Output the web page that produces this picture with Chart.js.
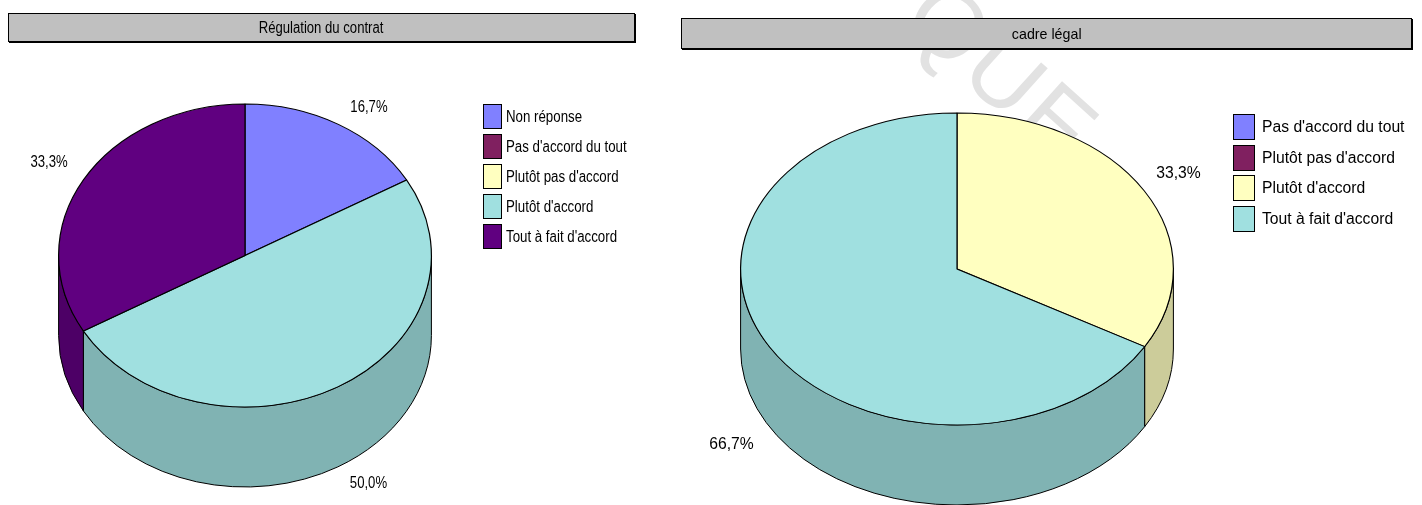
<!DOCTYPE html>
<html lang="fr">
<head>
<meta charset="utf-8">
<script src="https://cdn.jsdelivr.net/npm/chart.js@4.4.1/dist/chart.umd.min.js"></script>
<style>
  body { margin: 0; background: #fff; }
  #page { position: relative; width: 1422px; height: 505px; overflow: hidden; font-family: "Liberation Sans", Arial, sans-serif; color: #000; }
  .titre { position: absolute; box-sizing: border-box; background: #c0c0c0; border: 1px solid #000; box-shadow: 1px 1px 0 #000; text-align: center; white-space: nowrap; }
  .titre span { display: inline-block; }
  canvas { position: absolute; top: 0; }
  .legende { position: absolute; }
  .ligne { position: absolute; left: 0; white-space: nowrap; }
  .case { position: absolute; left: 0; top: 0; box-sizing: border-box; border: 1px solid #000; }
  .texte { position: absolute; top: 0; transform-origin: 0 50%; }
  #filigrane { position: absolute; left: 958px; top: -42px; font-size: 96px; color: #e2e2e2; transform: rotate(42deg); transform-origin: 0 0; letter-spacing: 4px; }
</style>
</head>
<body>
<div id="page">
  <div id="filigrane">QUE</div>
  <canvas id="c1" width="680" height="505" style="left:0;width:680px;height:505px"></canvas>
  <canvas id="c2" width="742" height="505" style="left:680px;width:742px;height:505px"></canvas>
  <div class="titre" id="t1" style="left:8px;top:13px;width:627px;height:29px;line-height:27px;font-size:16px"></div>
  <div class="titre" id="t2" style="left:681px;top:18px;width:731px;height:31px;line-height:29px;font-size:15px"></div>
  <div class="legende" id="l1" style="left:483px;top:104px"></div>
  <div class="legende" id="l2" style="left:1233px;top:114px"></div>
</div>
<script>
// DONNÉES
const titre1 = "Régulation du contrat";
const categories1 = ["Non réponse", "Pas d'accord du tout", "Plutôt pas d'accord", "Plutôt d'accord", "Tout à fait d'accord"];
const valeurs1 = [16.7, 0, 0, 50.0, 33.3];
const couleurs1 = ["#8080ff", "#802060", "#ffffc0", "#a0e0e0", "#600080"];

const titre2 = "cadre légal";
const categories2 = ["Pas d'accord du tout", "Plutôt pas d'accord", "Plutôt d'accord", "Tout à fait d'accord"];
const valeurs2 = [0, 0, 33.3, 66.7];
const couleurs2 = ["#8080ff", "#802060", "#ffffc0", "#a0e0e0"];

// COULEUR PLUS SOMBRE POUR LES CÔTÉS
function assombrir(hex, f) {
    const n = parseInt(hex.slice(1), 16);
    const r = Math.round(((n >> 16) & 255) * f);
    const g = Math.round(((n >> 8) & 255) * f);
    const b = Math.round((n & 255) * f);
    return `rgb(${r},${g},${b})`;
}

function formatPct(v) {
    return v.toFixed(1).replace(".", ",") + "%";
}

// CAMEMBERT 3D : côtés + écrasement vertical + étiquettes
const pie3d = {
    id: "pie3d",
    beforeDatasetsDraw(chart, args, opts) {
        const ctx = chart.ctx;
        const arcs = chart.getDatasetMeta(0).data;
        const R = arcs[0].outerRadius, cx = arcs[0].x, cyC = arcs[0].y;
        const cy = opts.cy, ry = opts.ry, h = opts.depth;
        const couleurs = chart.data.datasets[0].backgroundColor;

        ctx.save();
        ctx.lineWidth = 1;
        ctx.strokeStyle = "#000";
        arcs.forEach((arc, i) => {
            const s = arc.startAngle, e = arc.endAngle;
            if (e - s <= 0) return;
            [-2 * Math.PI, 0, 2 * Math.PI].forEach(off => {
                const a = Math.max(s, off), b = Math.min(e, off + Math.PI);
                if (b <= a) return;
                ctx.beginPath();
                ctx.ellipse(cx, cy, R, ry, 0, a, b);
                ctx.lineTo(cx + R * Math.cos(b), cy + h + ry * Math.sin(b));
                ctx.ellipse(cx, cy + h, R, ry, 0, b, a, true);
                ctx.closePath();
                ctx.fillStyle = assombrir(couleurs[i], 0.8);
                ctx.fill();
                ctx.stroke();
            });
        });
        ctx.restore();

        ctx.save();
        ctx.translate(cx, cy);
        ctx.scale(1, ry / R);
        ctx.translate(-cx, -cyC);
    },
    afterDatasetsDraw(chart, args, opts) {
        const ctx = chart.ctx;
        ctx.restore();

        const arcs = chart.getDatasetMeta(0).data;
        const R = arcs[0].outerRadius, cx = arcs[0].x;
        const cy = opts.cy, ry = opts.ry, h = opts.depth;
        const valeurs = chart.data.datasets[0].data;

        ctx.save();
        ctx.fillStyle = "#000";
        ctx.font = opts.fontSize + "px 'Liberation Sans', Arial, sans-serif";
        ctx.textBaseline = "middle";
        arcs.forEach((arc, i) => {
            if (!valeurs[i]) return;
            const m = (arc.startAngle + arc.endAngle) / 2;
            const c = Math.cos(m), s = Math.sin(m);
            let x = cx + R * c, y = cy + ry * s;
            if (s > 0) y += h;
            x += c > 0 ? 12 : -16;
            y += s > 0 ? 17 : -17;
            ctx.save();
            ctx.translate(x, y);
            ctx.scale(opts.narrow, 1);
            ctx.textAlign = c > 0 ? "left" : "right";
            ctx.fillText(formatPct(valeurs[i]), 0, 0);
            ctx.restore();
        });
        ctx.restore();
    }
};

function creer(id, categories, valeurs, couleurs, padding, geo) {
    return new Chart(document.getElementById(id), {
        type: "pie",
        data: {
            labels: categories,
            datasets: [{
                data: valeurs,
                backgroundColor: couleurs,
                borderColor: "#000",
                borderWidth: 1.2
            }]
        },
        options: {
            responsive: false,
            animation: false,
            events: [],
            layout: { padding: padding },
            plugins: {
                legend: { display: false },
                tooltip: { enabled: false },
                pie3d: geo
            }
        },
        plugins: [pie3d]
    });
}

// TITRES ET LÉGENDES
function titre(id, texte, narrow) {
    const el = document.getElementById(id);
    const sp = document.createElement("span");
    sp.textContent = texte;
    sp.style.transform = `scaleX(${narrow})`;
    el.appendChild(sp);
}

function legende(id, categories, couleurs, o) {
    const el = document.getElementById(id);
    categories.forEach((cat, i) => {
        const ligne = document.createElement("div");
        ligne.className = "ligne";
        ligne.style.top = (i * o.pas) + "px";
        ligne.innerHTML = `
            <span class="case" style="width:${o.w}px;height:${o.h}px;background:${couleurs[i]}"></span>
            <span class="texte" style="left:${o.tx}px;font-size:${o.fs}px;line-height:${o.h}px;transform:scaleX(${o.narrow})"></span>
        `;
        ligne.querySelector(".texte").textContent = cat;
        el.appendChild(ligne);
    });
}

titre("t1", titre1, 0.82);
titre("t2", titre2, 0.95);
legende("l1", categories1, couleurs1, { pas: 30, w: 19, h: 25, tx: 23, fs: 16, narrow: 0.83 });
legende("l2", categories2, couleurs2, { pas: 30.5, w: 22, h: 26, tx: 29, fs: 16, narrow: 0.98 });

creer("c1", categories1, valeurs1, couleurs1,
    { left: 58, right: 248, top: 0, bottom: 0 },
    { cy: 255.5, ry: 151.5, depth: 80, narrow: 0.82, fontSize: 16 });
creer("c2", categories2, valeurs2, couleurs2,
    { left: 60, right: 248, top: 0, bottom: 0 },
    { cy: 269, ry: 156, depth: 80, narrow: 0.98, fontSize: 16 });
</script>
</body>
</html>
